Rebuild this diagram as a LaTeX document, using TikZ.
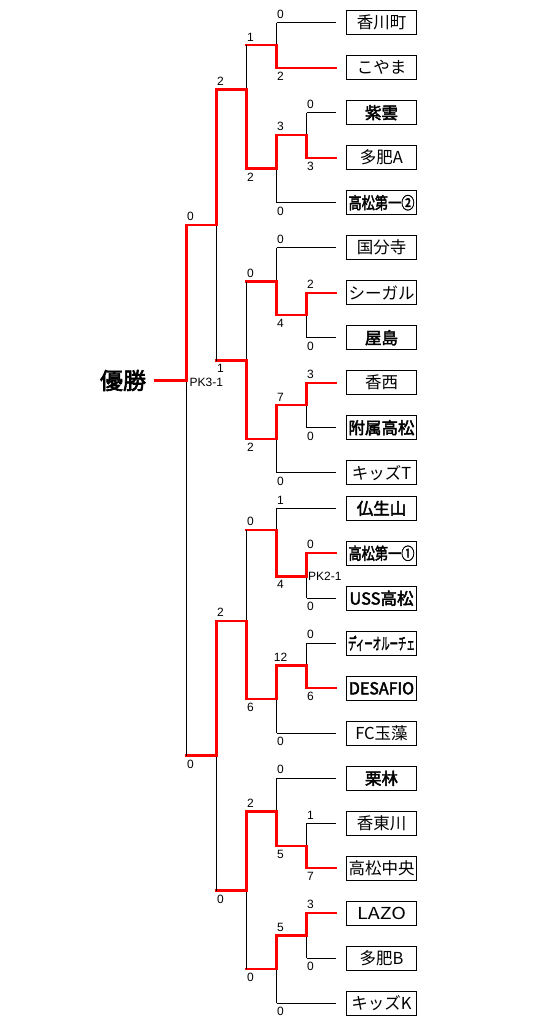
\documentclass[tikz,border=0pt]{standalone}
\usepackage{graphicx}
\usepackage{fontspec}
\setmainfont{Liberation Sans}
\newfontfamily\jp{Noto Sans CJK JP}
\newfontfamily\jpb[FakeBold=2.5]{Noto Sans CJK JP}
\tikzset{
  bk/.style={line width=1pt, black},
  rd/.style={line width=2.1pt, red, line cap=rect},
  lab/.style={inner sep=0pt, font=\fontsize{12}{12}\selectfont},
  teambox/.style={draw, line width=1pt, minimum width=70pt, minimum height=24pt, inner sep=0pt, font=\jp\fontsize{16.5}{16.5}\selectfont},
  boldbox/.style={teambox, font=\jpb\fontsize{16.5}{16.5}\selectfont},
}
% match: x, ytop, ybot, yout, top score, bottom score, winner (t/b)
\newcommand\mt[7]{%
  \draw[bk] (#1,#2) -- (#1,#3);
  \node[lab, anchor=south] at (#1+4,#2-4) {#5};
  \node[lab, anchor=north] at (#1+4,#3+4) {#6};
  \ifx t#7
    \draw[rd] (#1-30,#4) -- (#1,#4) -- (#1,#2);
  \else
    \draw[rd] (#1-30,#4) -- (#1,#4) -- (#1,#3);
  \fi
}
\begin{document}
\begin{tikzpicture}[x=1pt,y=-1pt]
\useasboundingbox (0,0) rectangle (540,1029);
\fill[white] (0,0) rectangle (540,1029);

% teams, upper half
\node[teambox]  (t01) at (381.5,22.7)  {香川町};
\node[teambox]  (t02) at (381.5,67.7)  {こやま};
\node[boldbox]  (t03) at (381.5,112.7) {紫雲};
\node[teambox]  (t04) at (381.5,157.7) {多肥A};
\node[boldbox]  (t05) at (381.5,202.7) {\scalebox{0.8}[1]{高松第一②}};
\node[teambox]  (t06) at (381.5,247.7) {国分寺};
\node[teambox]  (t07) at (381.5,292.7) {シーガル};
\node[boldbox]  (t08) at (381.5,337.7) {屋島};
\node[teambox]  (t09) at (381.5,382.7) {香西};
\node[boldbox]  (t10) at (381.5,427.7) {附属高松};
\node[teambox]  (t11) at (381.5,472.7) {キッズT};
% teams, lower half
\node[boldbox]  (t12) at (381.5,508.3) {仏生山};
\node[boldbox]  (t13) at (381.5,553.3) {\scalebox{0.8}[1]{高松第一①}};
\node[boldbox]  (t14) at (381.5,598.3) {USS高松};
\node[boldbox]  (t15) at (381.5,643.3) {\scalebox{0.51}[1]{ディーオルーチェ}};
\node[boldbox]  (t16) at (381.5,688.3) {\scalebox{0.97}[1]{DESAFIO}};
\node[teambox]  (t17) at (381.5,733.3) {FC玉藻};
\node[boldbox]  (t18) at (381.5,778.3) {栗林};
\node[teambox]  (t19) at (381.5,823.3) {香東川};
\node[teambox]  (t20) at (381.5,868.3) {高松中央};
\node[teambox]  (t21) at (381.5,913.3) {\scalebox{1.2}[1]{LAZO}};
\node[teambox]  (t22) at (381.5,958.3) {多肥B};
\node[teambox]  (t23) at (381.5,1003.3) {キッズK};

% stubs from the brackets to the boxes
\draw[bk] (276.5,22.7)  -- ([xshift=-10pt]t01.west);
\draw[rd] (276.5,67.7)  -- ([xshift=-10pt]t02.west);
\draw[bk] (306.5,112.7) -- ([xshift=-10pt]t03.west);
\draw[rd] (306.5,157.7) -- ([xshift=-10pt]t04.west);
\draw[bk] (276.5,202.7) -- ([xshift=-10pt]t05.west);
\draw[bk] (276.5,247.7) -- ([xshift=-10pt]t06.west);
\draw[rd] (306.5,292.7) -- ([xshift=-10pt]t07.west);
\draw[bk] (306.5,337.7) -- ([xshift=-10pt]t08.west);
\draw[rd] (306.5,382.7) -- ([xshift=-10pt]t09.west);
\draw[bk] (306.5,427.7) -- ([xshift=-10pt]t10.west);
\draw[bk] (276.5,472.7) -- ([xshift=-10pt]t11.west);
\draw[bk] (276.5,508.3) -- ([xshift=-10pt]t12.west);
\draw[rd] (306.5,553.3) -- ([xshift=-10pt]t13.west);
\draw[bk] (306.5,598.3) -- ([xshift=-10pt]t14.west);
\draw[bk] (306.5,643.3) -- ([xshift=-10pt]t15.west);
\draw[rd] (306.5,688.3) -- ([xshift=-10pt]t16.west);
\draw[bk] (276.5,733.3) -- ([xshift=-10pt]t17.west);
\draw[bk] (276.5,778.3) -- ([xshift=-10pt]t18.west);
\draw[bk] (306.5,823.3) -- ([xshift=-10pt]t19.west);
\draw[rd] (306.5,868.3) -- ([xshift=-10pt]t20.west);
\draw[rd] (306.5,913.3) -- ([xshift=-10pt]t21.west);
\draw[bk] (306.5,958.3) -- ([xshift=-10pt]t22.west);
\draw[bk] (276.5,1003.3) -- ([xshift=-10pt]t23.west);

% upper half matches
\mt{306.5}{112.7}{157.7}{135.2}{0}{3}{b}
\mt{276.5}{22.7}{67.7}{45.2}{0}{2}{b}
\mt{276.5}{135.2}{202.7}{168.5}{3}{0}{t}
\mt{246.5}{45.2}{168.5}{89.5}{1}{2}{b}
\mt{306.5}{292.7}{337.7}{315.2}{2}{0}{t}
\mt{276.5}{247.7}{315.2}{281.5}{0}{4}{b}
\mt{306.5}{382.7}{427.7}{405.2}{3}{0}{t}
\mt{276.5}{405.2}{472.7}{439}{7}{0}{t}
\mt{246.5}{281.5}{439}{360.5}{0}{2}{b}
\mt{216.5}{89.5}{360.5}{225}{2}{1}{t}
% lower half matches
\mt{306.5}{553.3}{598.3}{576.5}{0}{0}{t}
\mt{276.5}{508.3}{576.5}{530}{1}{4}{b}
\mt{306.5}{643.3}{688.3}{665.5}{0}{6}{b}
\mt{276.5}{665.5}{733.3}{699}{12}{0}{t}
\mt{246.5}{530}{699}{621}{0}{6}{b}
\mt{306.5}{823.3}{868.3}{846}{1}{7}{b}
\mt{276.5}{778.3}{846}{811.5}{0}{5}{b}
\mt{306.5}{913.3}{958.3}{935.5}{3}{0}{t}
\mt{276.5}{935.5}{1003.3}{969}{5}{0}{t}
\mt{246.5}{811.5}{969}{890.5}{2}{0}{t}
\mt{216.5}{621}{890.5}{755.5}{2}{0}{t}

% final
\node[inner sep=0pt, font=\jpb\fontsize{23}{23}\selectfont] (win) at (123,380.5) {優勝};
\coordinate (ftop) at (186.5,225);
\coordinate (fbot) at (186.5,755.5);
\coordinate (fout) at (186.5,380.5);
\draw[bk] (ftop) -- (fbot);
\draw[rd] ([xshift=9pt]win.east) -- (fout) -- (ftop);
\node[lab, anchor=south] at (190.5,221) {0};
\node[lab, anchor=north] at (190.5,759.5) {0};
\node[lab, anchor=west] at (189.5,382) {PK3-1};
\node[lab, anchor=west] at (308,576.5) {PK2-1};
\end{tikzpicture}
\end{document}
